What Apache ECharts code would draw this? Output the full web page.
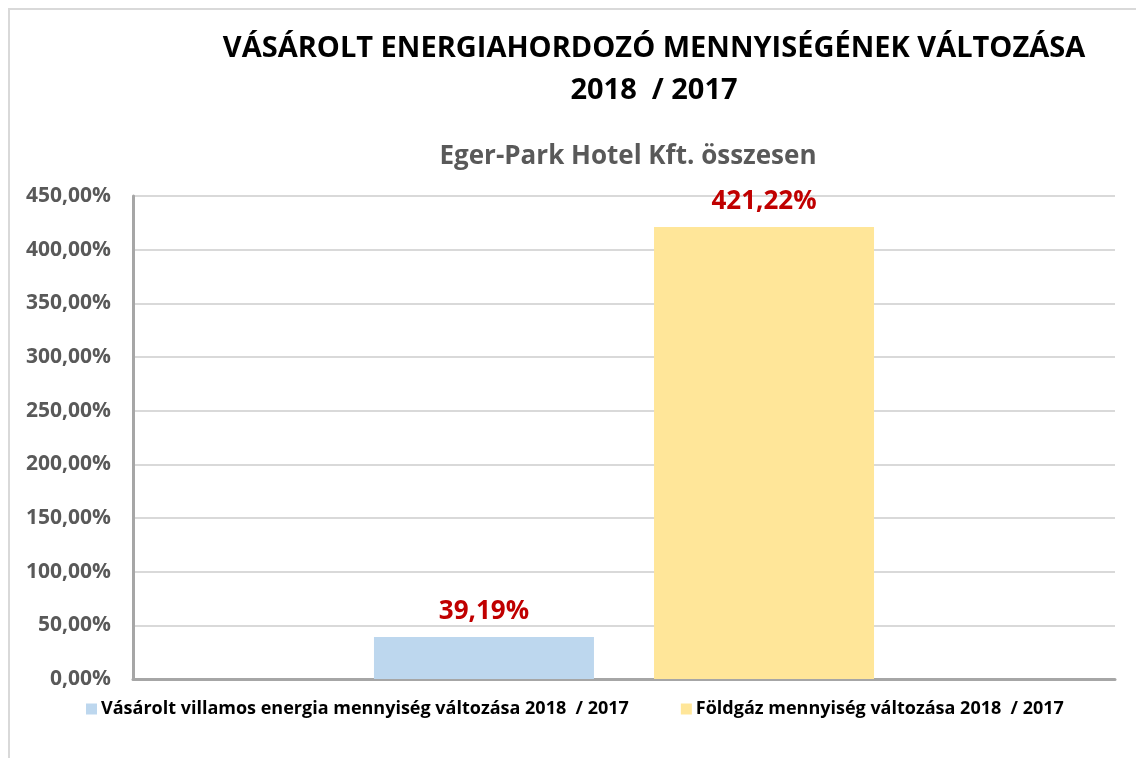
<!DOCTYPE html>
<html>
<head>
<meta charset="utf-8">
<script src="https://cdn.jsdelivr.net/npm/echarts@6/dist/echarts.min.js"></script>
<style>
  html, body { margin: 0; padding: 0; background: #fff; }
  #chart { width: 1136px; height: 758px; }
</style>
</head>
<body>
<div id="chart"></div>
<script>
var titleLines = ['VÁSÁROLT ENERGIAHORDOZÓ MENNYISÉGÉNEK VÁLTOZÁSA', '2018  / 2017'];
var subTitle = 'Eger-Park Hotel Kft. összesen';
var categories = [''];
var seriesNames = [
    'Vásárolt villamos energia mennyiség változása 2018  / 2017',
    'Földgáz mennyiség változása 2018  / 2017'
];
var villamosValues = [39.19];
var foldgazValues = [421.22];
var seriesColors = ['#BDD7EE', '#FFE699'];

var font = '"Open Sans", "Noto Sans", sans-serif';

function pct(v) {
    return v.toFixed(2).replace('.', ',') + '%';
}

var chart = echarts.init(document.getElementById('chart'));
var barLabel = {
    show: true,
    position: 'top',
    distance: 12,
    color: '#C00000',
    fontFamily: font,
    fontWeight: 'bold',
    fontSize: 26,
    formatter: function (p) { return pct(p.value); }
};

chart.setOption({
    animation: false,
    color: seriesColors,
    graphic: [{
        type: 'rect',
        shape: { x: 9, y: 9, width: 1200, height: 800 },
        style: { fill: 'none', stroke: '#D9D9D9', lineWidth: 2 },
        silent: true
    }],
    title: [
        {
            text: titleLines.join('\n'),
            left: 649,
            top: 23,
            textAlign: 'center',
            textStyle: {
                fontFamily: font,
                fontWeight: 'bold',
                fontSize: 29,
                color: '#000',
                lineHeight: 42
            }
        },
        {
            text: subTitle,
            left: 623,
            top: 139,
            textAlign: 'center',
            textStyle: {
                fontFamily: font,
                fontWeight: 'bold',
                fontSize: 26,
                color: '#595959'
            }
        }
    ],
    legend: {
        bottom: 35,
        left: 81,
        itemWidth: 11,
        itemHeight: 11,
        itemGap: 52,
        icon: 'rect',
        textStyle: {
            fontFamily: font,
            fontWeight: 'bold',
            fontSize: 18,
            color: '#000',
            padding: [0, 0, 0, -1]
        },
        data: seriesNames
    },
    grid: {
        left: 133,
        right: 21,
        top: 196,
        bottom: 79,
        containLabel: false
    },
    xAxis: {
        type: 'category',
        data: categories,
        axisLine: { show: true, lineStyle: { color: '#A6A6A6', width: 3 } },
        axisTick: { show: false },
        axisLabel: { show: false }
    },
    yAxis: {
        type: 'value',
        min: 0,
        max: 450,
        interval: 50,
        axisLine: { show: true, lineStyle: { color: '#A6A6A6', width: 3 } },
        axisTick: { show: false },
        splitLine: { lineStyle: { color: '#D9D9D9', width: 2 } },
        axisLabel: {
            margin: 22,
            color: '#595959',
            fontFamily: font,
            fontWeight: 'bold',
            fontSize: 21,
            formatter: function (v) { return pct(v); }
        }
    },
    series: [
        {
            name: seriesNames[0],
            type: 'bar',
            barWidth: 220,
            barGap: '27.3%',
            data: villamosValues,
            label: barLabel
        },
        {
            name: seriesNames[1],
            type: 'bar',
            barWidth: 220,
            barGap: '27.3%',
            data: foldgazValues,
            label: barLabel
        }
    ]
});
</script>
</body>
</html>
